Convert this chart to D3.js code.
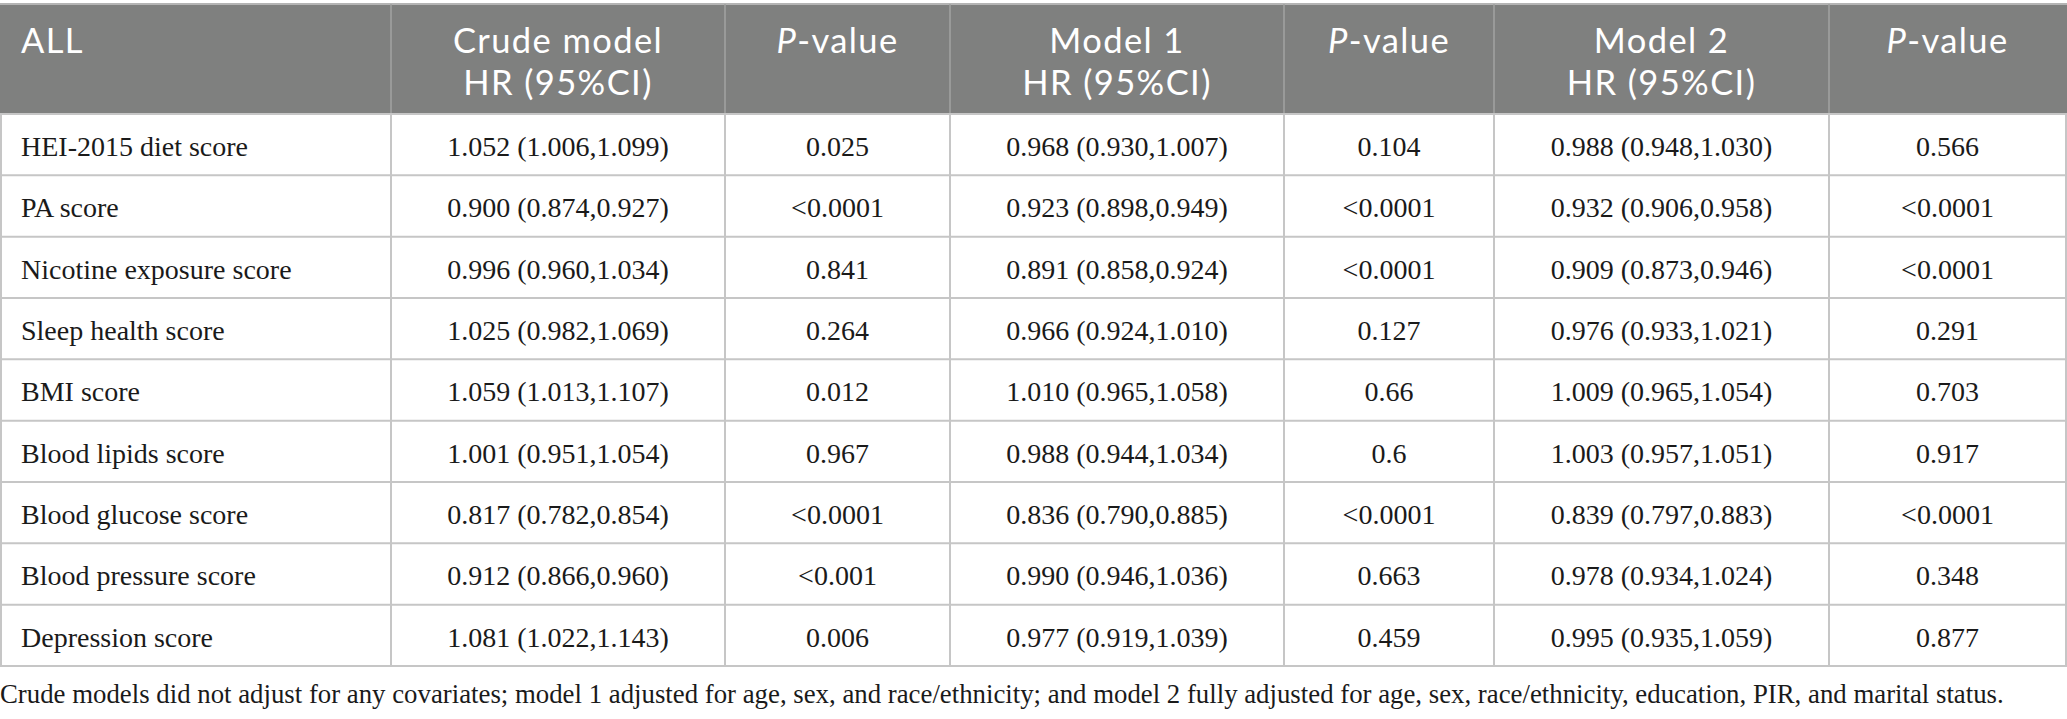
<!DOCTYPE html>
<html>
<head>
<meta charset="utf-8">
<script src="https://cdn.jsdelivr.net/npm/d3@7"></script>
<style>
  body { margin: 0; background: #fff; }
  .head { font-family: Lato, "Open Sans", sans-serif; font-weight: 400; fill: #fff; }
  .cell { font-family: "Liberation Serif", "DejaVu Serif", serif; fill: #1a1a1a; }
  .note { font-family: "Liberation Serif", "DejaVu Serif", serif; fill: #1a1a1a; }
</style>
</head>
<body>
<div id="chart"></div>
<script>
// table contents
var categories = ["HEI-2015 diet score", "PA score", "Nicotine exposure score", "Sleep health score",
  "BMI score", "Blood lipids score", "Blood glucose score", "Blood pressure score", "Depression score"];

var crudeHR = ["1.052 (1.006,1.099)", "0.900 (0.874,0.927)", "0.996 (0.960,1.034)", "1.025 (0.982,1.069)",
  "1.059 (1.013,1.107)", "1.001 (0.951,1.054)", "0.817 (0.782,0.854)", "0.912 (0.866,0.960)", "1.081 (1.022,1.143)"];
var crudeP = ["0.025", "<0.0001", "0.841", "0.264", "0.012", "0.967", "<0.0001", "<0.001", "0.006"];

var model1HR = ["0.968 (0.930,1.007)", "0.923 (0.898,0.949)", "0.891 (0.858,0.924)", "0.966 (0.924,1.010)",
  "1.010 (0.965,1.058)", "0.988 (0.944,1.034)", "0.836 (0.790,0.885)", "0.990 (0.946,1.036)", "0.977 (0.919,1.039)"];
var model1P = ["0.104", "<0.0001", "<0.0001", "0.127", "0.66", "0.6", "<0.0001", "0.663", "0.459"];

var model2HR = ["0.988 (0.948,1.030)", "0.932 (0.906,0.958)", "0.909 (0.873,0.946)", "0.976 (0.933,1.021)",
  "1.009 (0.965,1.054)", "1.003 (0.957,1.051)", "0.839 (0.797,0.883)", "0.978 (0.934,1.024)", "0.995 (0.935,1.059)"];
var model2P = ["0.566", "<0.0001", "<0.0001", "0.291", "0.703", "0.917", "<0.0001", "0.348", "0.877"];

// *...* marks the italic part
var headers = [["ALL"], ["Crude model", "HR (95%CI)"], ["*P*-value"], ["Model 1", "HR (95%CI)"],
  ["*P*-value"], ["Model 2", "HR (95%CI)"], ["*P*-value"]];

var footnote = "Crude models did not adjust for any covariates; model 1 adjusted for age, sex, and race/ethnicity; and model 2 fully adjusted for age, sex, race/ethnicity, education, PIR, and marital status.";

var width = 2067, height = 719;
var colWidths = [391, 334, 225, 334, 210, 335, 238];
var headTop = 4, headBottom = 114, bodyBottom = 666;

var columns = [categories, crudeHR, crudeP, model1HR, model1P, model2HR, model2P];
var colEdges = [0].concat(Array.from(d3.cumsum(colWidths)));
colEdges[colEdges.length - 1] = width - 1;

var y = d3.scaleBand()
  .domain(categories)
  .range([headBottom, bodyBottom]);

var svg = d3.select("#chart")
  .append("svg")
  .attr("width", width)
  .attr("height", height);

// header band
svg.append("rect")
  .attr("x", 0)
  .attr("y", headTop)
  .attr("width", width)
  .attr("height", headBottom - headTop)
  .attr("fill", "#7f807f");

svg.append("line")
  .attr("x1", 0).attr("x2", width)
  .attr("y1", headTop).attr("y2", headTop)
  .attr("stroke", "#b4b4b4")
  .attr("stroke-width", 2);

// header separators
svg.selectAll(".hsep")
  .data(colEdges.slice(1, -1))
  .enter().append("line")
  .attr("x1", function(d) { return d; })
  .attr("x2", function(d) { return d; })
  .attr("y1", headTop)
  .attr("y2", headBottom)
  .attr("stroke", "#a2a3a2")
  .attr("stroke-width", 1.5);

// header text, one text element per column, one tspan row per line
headers.forEach(function(lines, i) {
  var left = i === 0;
  var x = left ? colEdges[i] + 21 : (colEdges[i] + colEdges[i + 1]) / 2;
  var t = svg.append("text")
    .attr("class", "head")
    .attr("x", x)
    .attr("y", 53)
    .attr("text-anchor", left ? "start" : "middle")
    .style("font-size", "34.5px")
    .style("letter-spacing", "1.4px");
  lines.forEach(function(line, j) {
    var parts = line.split("*");
    var first = true;
    parts.forEach(function(p, k) {
      if (p === "") return;
      var s = t.append("tspan")
        .text(p)
        .style("font-style", k % 2 === 1 ? "italic" : "normal");
      if (first && j > 0) s.attr("x", x).attr("dy", 42);
      first = false;
    });
  });
});

// body grid
svg.selectAll(".hline")
  .data(categories.map(function(c) { return y(c) + y.bandwidth(); }).concat([headBottom]))
  .enter().append("line")
  .attr("x1", 0).attr("x2", width)
  .attr("y1", function(d) { return d; })
  .attr("y2", function(d) { return d; })
  .attr("stroke", "#c6c6c6")
  .attr("stroke-width", 2);

svg.selectAll(".vline")
  .data(colEdges)
  .enter().append("line")
  .attr("x1", function(d) { return d + (d === 0 ? 1 : 0); })
  .attr("x2", function(d) { return d + (d === 0 ? 1 : 0); })
  .attr("y1", headBottom)
  .attr("y2", bodyBottom)
  .attr("stroke", "#c6c6c6")
  .attr("stroke-width", 2);

// body cells
columns.forEach(function(values, i) {
  var left = i === 0;
  svg.selectAll(".c" + i)
    .data(values)
    .enter().append("text")
    .attr("class", "cell")
    .attr("x", left ? colEdges[i] + 21 : (colEdges[i] + colEdges[i + 1]) / 2)
    .attr("y", function(d, k) { return y(categories[k]) + 42; })
    .attr("text-anchor", left ? "start" : "middle")
    .style("font-size", "28px")
    .text(function(d) { return d; });
});

// note under the table, sized to span the same width as the original
var note = svg.append("text")
  .attr("class", "note")
  .attr("x", 0)
  .attr("y", 703)
  .style("font-size", "26px")
  .text(footnote);
var w = note.node().getComputedTextLength();
note.style("font-size", (26 * 2004 / w) + "px");
</script>
</body>
</html>
